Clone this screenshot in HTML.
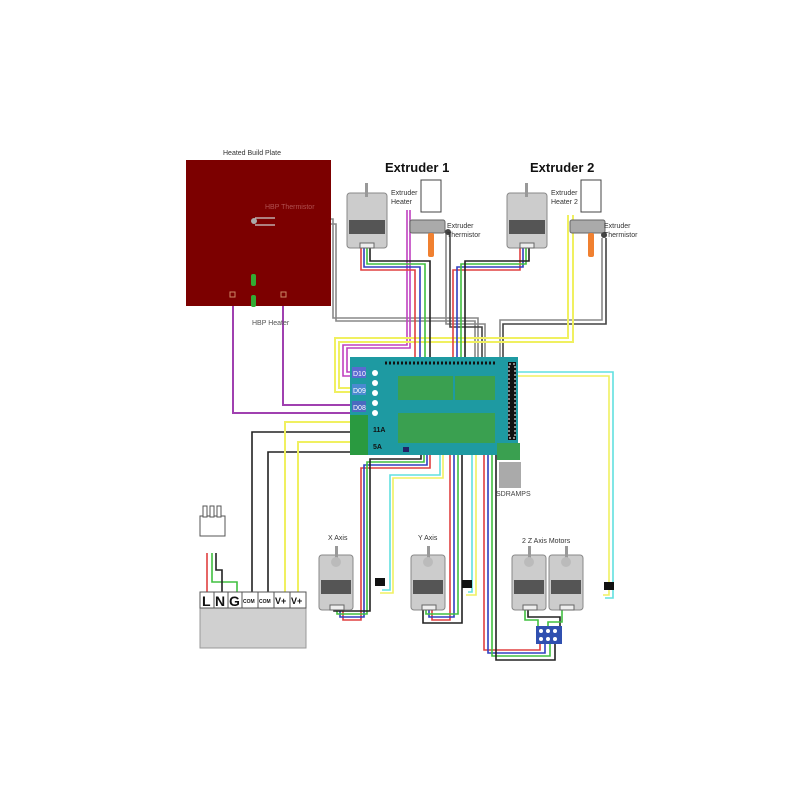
<!DOCTYPE html>
<html><head><meta charset="utf-8"><style>
html,body{margin:0;padding:0;background:#fff;}
svg{display:block;}
text{font-family:"Liberation Sans",sans-serif;}
</style></head><body>
<svg width="800" height="800" viewBox="0 0 800 800" xmlns="http://www.w3.org/2000/svg">
<rect width="800" height="800" fill="#fff"/>
<g fill="none" stroke-width="1.6">
<!-- HBP thermistor (gray double) -->
<polyline points="255,219 333,219 333,318 478,318 478,360" stroke="#888"/>
<polyline points="255,224 336,224 336,321 475,321 475,360" stroke="#888"/>
<!-- E1 thermistor -->
<polyline points="446,232 446,324 485,324 485,360" stroke="#888"/>
<polyline points="450,232 450,327 482,327 482,360" stroke="#444"/>
<!-- E2 thermistor -->
<polyline points="602,238 602,320 500,320 500,360" stroke="#888"/>
<polyline points="606,238 606,324 503,324 503,360" stroke="#444"/>
<!-- magenta E1 heater -->
<polyline points="407,210 407,345 343,345 343,376 352,376" stroke="#c040c0"/>
<polyline points="410,210 410,348 347,348 347,372 352,372" stroke="#c040c0"/>
<!-- yellow -->
<polyline points="568,215 568,338 335,338 335,392 352,392" stroke="#f0f060" stroke-width="2"/>
<polyline points="573,215 573,342 339,342 339,388 352,388" stroke="#f0f060" stroke-width="2"/>
<!-- E1 motor wires -->
<polyline points="361,248 361,270 415,270 415,360" stroke="#e04040"/>
<polyline points="364,248 364,267 420,267 420,360" stroke="#3040c0"/>
<polyline points="367,248 367,264 425,264 425,360" stroke="#40c040"/>
<polyline points="370,248 370,261 430,261 430,360" stroke="#222"/>
<!-- E2 motor wires -->
<polyline points="520,248 520,270 453,270 453,360" stroke="#e04040"/>
<polyline points="523,248 523,267 457,267 457,360" stroke="#3040c0"/>
<polyline points="526,248 526,264 461,264 461,360" stroke="#40c040"/>
<polyline points="529,248 529,261 465,261 465,360" stroke="#222"/>
<!-- HBP heater magenta -->
<polyline points="233,296 233,413 352,413" stroke="#a040b0" stroke-width="2"/>
<polyline points="283,296 283,405 352,405" stroke="#a040b0" stroke-width="2"/>
<!-- power lines -->
<polyline points="352,432 252,432 252,592" stroke="#222"/>
<polyline points="352,452 268,452 268,592" stroke="#222"/>
<polyline points="352,422 285,422 285,592" stroke="#f0f060" stroke-width="2"/>
<polyline points="352,442 298,442 298,592" stroke="#f0f060" stroke-width="2"/>
<!-- X motor wires -->
<polyline points="430,452 430,468 361,468 361,620 343,620 343,610" stroke="#e04040"/>
<polyline points="427,452 427,465 364,465 364,617 340,617 340,610" stroke="#3040c0"/>
<polyline points="424,452 424,462 367,462 367,614 337,614 337,610" stroke="#40c040"/>
<polyline points="421,452 421,459 370,459 370,611 334,611 334,610" stroke="#222"/>
<!-- X endstop cyan/yellow -->
<polyline points="440,452 440,475 390,475 390,590 382,590" stroke="#60e0e0"/>
<polyline points="443,452 443,478 393,478 393,593 380,593" stroke="#f0f060"/>
<!-- Y motor -->
<polyline points="450,452 450,620 432,620 432,610" stroke="#e04040"/>
<polyline points="454,452 454,617 429,617 429,610" stroke="#3040c0"/>
<polyline points="458,452 458,614 426,614 426,610" stroke="#40c040"/>
<polyline points="462,452 462,623 423,623 423,610" stroke="#222"/>
<!-- Y endstop -->
<polyline points="472,452 472,592 468,592" stroke="#60e0e0"/>
<polyline points="476,452 476,595 466,595" stroke="#f0f060"/>
<!-- Z wires -->
<polyline points="484,400 484,650 540,650 540,640" stroke="#e04040"/>
<polyline points="488,400 488,653 545,653 545,640" stroke="#3040c0"/>
<polyline points="492,400 492,656 550,656 550,640" stroke="#40c040"/>
<polyline points="496,400 496,660 555,660 555,640" stroke="#222"/>
<polyline points="525,610 525,620 538,620 538,628" stroke="#40c040"/>
<polyline points="528,610 528,617 560,617 560,628" stroke="#222"/>
<polyline points="562,610 562,622 548,622 548,628" stroke="#40c040"/>
<!-- Z endstop cyan -->
<polyline points="505,372 613,372 613,598 605,598" stroke="#60e0e0"/>
<polyline points="505,376 609,376 609,595 603,595" stroke="#f0f060"/>
<!-- PSU plug -->
<polyline points="207,553 207,592" stroke="#e04040"/>
<polyline points="212,553 212,582 237,582 237,592" stroke="#40c040"/>
<polyline points="216,553 216,570 222,570 222,592" stroke="#222"/>
</g>
<!-- heated plate -->
<text x="252" y="155" font-size="7" text-anchor="middle" fill="#333">Heated Build Plate</text>
<rect x="186" y="160" width="145" height="146" fill="#7c0000"/>
<path d="M255,218 h20 M255,225 h20" stroke="#ccc" stroke-width="1.2"/>
<circle cx="254" cy="221" r="3" fill="#aaa"/>
<text x="265" y="209" font-size="7" fill="#b05050">HBP Thermistor</text>
<rect x="251" y="274" width="5" height="12" rx="2" fill="#3a3"/>
<rect x="251" y="295" width="5" height="12" rx="2" fill="#3a3"/>
<rect x="230" y="292" width="5" height="5" fill="none" stroke="#c86"/>
<rect x="281" y="292" width="5" height="5" fill="none" stroke="#c86"/>
<text x="252" y="325" font-size="7" fill="#555">HBP Heater</text>
<!-- Extruder titles -->
<text x="385" y="172" font-size="13" font-weight="bold" fill="#111">Extruder 1</text>
<text x="530" y="172" font-size="13" font-weight="bold" fill="#111">Extruder 2</text>
<!-- motors top -->
<g id="m1">
<rect x="347" y="193" width="40" height="55" rx="3" fill="#ccc" stroke="#888"/>
<rect x="365" y="183" width="3" height="14" fill="#999"/>
<rect x="349" y="220" width="36" height="14" fill="#555"/>
<rect x="360" y="243" width="14" height="5" fill="#eee" stroke="#666"/>
</g>
<use href="#m1" x="160"/>
<!-- heaters -->
<rect x="421" y="180" width="20" height="32" fill="#fff" stroke="#444"/>
<rect x="410" y="220" width="35" height="13" rx="2" fill="#aaa" stroke="#666"/>
<rect x="428" y="233" width="6" height="24" rx="2" fill="#f08030"/>
<circle cx="448" cy="232" r="3" fill="#444"/>
<rect x="581" y="180" width="20" height="32" fill="#fff" stroke="#444"/>
<rect x="570" y="220" width="35" height="13" rx="2" fill="#aaa" stroke="#666"/>
<rect x="588" y="233" width="6" height="24" rx="2" fill="#f08030"/>
<circle cx="604" cy="235" r="3" fill="#444"/>
<g font-size="7" fill="#333">
<text x="391" y="195">Extruder</text><text x="391" y="204">Heater</text>
<text x="447" y="228">Extruder</text><text x="447" y="237">Thermistor</text>
<text x="551" y="195">Extruder</text><text x="551" y="204">Heater 2</text>
<text x="604" y="228">Extruder</text><text x="604" y="237">Thermistor</text>
</g>
<!-- board -->
<rect x="350" y="357" width="168" height="98" fill="#1e9aa2"/>
<rect x="350" y="415" width="18" height="40" fill="#2a9a40"/>
<rect x="352" y="367" width="14" height="11" fill="#5a6ad0"/><text x="353" y="376" font-size="7" fill="#fff">D10</text>
<rect x="352" y="384" width="14" height="11" fill="#4a8ad0"/><text x="353" y="393" font-size="7" fill="#fff">D09</text>
<rect x="352" y="401" width="14" height="11" fill="#4a6ac0"/><text x="353" y="410" font-size="7" fill="#fff">D08</text>
<g fill="#fff"><circle cx="375" cy="373" r="3"/><circle cx="375" cy="383" r="3"/><circle cx="375" cy="393" r="3"/><circle cx="375" cy="403" r="3"/><circle cx="375" cy="413" r="3"/></g>
<text x="373" y="432" font-size="7" font-weight="bold" fill="#111">11A</text>
<text x="373" y="449" font-size="7" font-weight="bold" fill="#111">5A</text>
<rect x="398" y="376" width="55" height="24" fill="#3aa050"/>
<rect x="455" y="376" width="40" height="24" fill="#3aa050"/>
<rect x="398" y="413" width="97" height="30" fill="#3aa050"/>
<path d="M385,363 h110" stroke="#111" stroke-width="3" stroke-dasharray="2,2"/>
<rect x="508" y="362" width="8" height="78" fill="#111"/>
<rect x="509" y="364" width="6" height="74" fill="none" stroke="#fff" stroke-dasharray="2,2"/>
<rect x="497" y="443" width="23" height="17" fill="#3aa050"/>
<rect x="499" y="462" width="22" height="26" fill="#aaa"/>
<text x="496" y="496" font-size="7" fill="#444">SDRAMPS</text>
<rect x="403" y="447" width="6" height="5" fill="#226"/>
<!-- PSU -->
<rect x="200" y="516" width="25" height="20" fill="#fff" stroke="#555"/>
<rect x="203" y="506" width="4" height="11" fill="#fff" stroke="#555"/>
<rect x="210" y="506" width="4" height="11" fill="#fff" stroke="#555"/>
<rect x="217" y="506" width="4" height="11" fill="#fff" stroke="#555"/>
<rect x="200" y="608" width="106" height="40" fill="#d0d0d0" stroke="#999"/>
<g stroke="#555" fill="#fff">
<rect x="200" y="592" width="14" height="16"/><rect x="214" y="592" width="14" height="16"/><rect x="228" y="592" width="14" height="16"/>
<rect x="242" y="592" width="16" height="16"/><rect x="258" y="592" width="16" height="16"/><rect x="274" y="592" width="16" height="16"/><rect x="290" y="592" width="16" height="16"/>
</g>
<g font-weight="bold" fill="#111">
<text x="202" y="606" font-size="14">L</text><text x="215" y="606" font-size="14">N</text><text x="229" y="606" font-size="14">G</text>
<text x="243" y="603" font-size="5">COM</text><text x="259" y="603" font-size="5">COM</text>
<text x="275" y="604" font-size="9">V+</text><text x="291" y="604" font-size="9">V+</text>
</g>
<!-- bottom motors -->
<g id="m2">
<rect x="319" y="555" width="34" height="55" rx="3" fill="#ccc" stroke="#888"/>
<rect x="335" y="546" width="3" height="14" fill="#999"/>
<circle cx="336" cy="562" r="5" fill="#bbb"/>
<rect x="321" y="580" width="30" height="14" fill="#555"/>
<rect x="330" y="605" width="14" height="5" fill="#eee" stroke="#666"/>
</g>
<use href="#m2" x="92"/>
<use href="#m2" x="193"/>
<use href="#m2" x="230"/>
<g font-size="7" fill="#333">
<text x="328" y="540">X Axis</text><text x="418" y="540">Y Axis</text><text x="522" y="543">2 Z Axis Motors</text>
</g>
<rect x="536" y="626" width="26" height="18" fill="#3050b0"/>
<g fill="#fff"><circle cx="541" cy="631" r="2"/><circle cx="548" cy="631" r="2"/><circle cx="555" cy="631" r="2"/><circle cx="541" cy="639" r="2"/><circle cx="548" cy="639" r="2"/><circle cx="555" cy="639" r="2"/></g>
<!-- endstops -->
<rect x="375" y="578" width="10" height="8" fill="#111"/>
<rect x="462" y="580" width="10" height="8" fill="#111"/>
<rect x="604" y="582" width="10" height="8" fill="#111"/>
</svg>
</body></html>
